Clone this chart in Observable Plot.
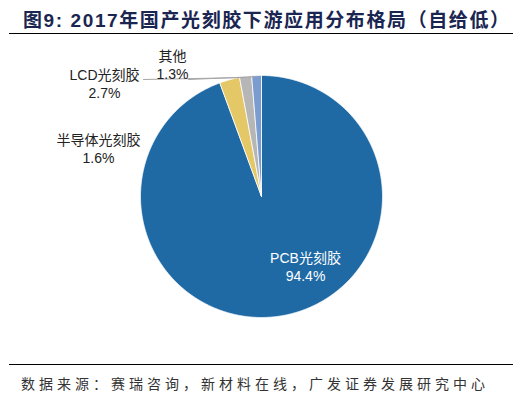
<!DOCTYPE html>
<html><head><meta charset="utf-8">
<script src="https://cdn.jsdelivr.net/npm/d3@7"></script>
<script src="https://cdn.jsdelivr.net/npm/@observablehq/plot@0.6"></script>
<style>
body{margin:0;background:#fff;width:522px;height:399px;overflow:hidden;font-family:"Liberation Sans","Noto Sans CJK SC",sans-serif;}
#title{position:absolute;left:23px;top:5px;font-size:19px;font-weight:bold;color:#1a2651;white-space:nowrap;font-family:"Liberation Sans","Noto Sans CJK SC",sans-serif;letter-spacing:1.6px;}
#rule1{position:absolute;left:9px;top:33px;width:504px;height:0;border-top:1.3px solid #000;}
#chart{position:absolute;left:0;top:35px;}
#rule2{position:absolute;left:9px;top:364px;width:504px;height:0;border-top:1.3px solid #000;}
#source{position:absolute;left:21px;top:373px;font-size:14px;color:#333;white-space:nowrap;letter-spacing:4px;font-family:"Noto Sans CJK SC",sans-serif;}
</style></head>
<body>
<div id="title">图9: 2017年国产光刻胶下游应用分布格局（自给低）</div>
<div id="rule1"></div>
<div id="chart"></div>
<div id="rule2"></div>
<div id="source">数据来源：赛瑞咨询，新材料在线，广发证券发展研究中心</div>
<script>
// Data
const categories = ["PCB光刻胶", "LCD光刻胶", "半导体光刻胶", "其他"];
const shares = [94.4, 2.7, 1.6, 1.3];
const colors = ["#1f6aa5", "#e4c766", "#b6b6b6", "#7b9ccf"];

// Layout (page coordinates)
const cx = 261, cy = 196, R = 121;
const labelPos = [[305, 265.5], [104, 83], [98, 148], [172, 63.5]];
const labelColor = ["#ffffff", "#222222", "#222222", "#222222"];
const leaderStart = [null, [143, 79], null, [188, 79]];
const leaderTarget = [null, 2, null, 3]; // slice index the leader points to

const arcs = d3.pie().sort(null).value(d => d)(shares);
const poly = [];
arcs.forEach((a, i) => {
  poly.push({k: categories[i], x: cx, y: cy});
  const n = Math.max(4, Math.ceil((a.endAngle - a.startAngle) / 0.005));
  for (let j = 0; j <= n; j++) {
    const t = a.startAngle + (a.endAngle - a.startAngle) * j / n;
    poly.push({k: categories[i], x: cx + R * Math.sin(t), y: cy - R * Math.cos(t)});
  }
  poly.push({k: categories[i], x: cx, y: cy});
});

const leaders = [];
categories.forEach((c, i) => {
  if (!leaderStart[i]) return;
  const a = arcs[leaderTarget[i]];
  const m = (a.startAngle + a.endAngle) / 2;
  leaders.push({k: c, x: leaderStart[i][0], y: leaderStart[i][1]});
  leaders.push({k: c, x: cx + R * Math.sin(m), y: cy - R * Math.cos(m) + 1});
});

const labels = categories.map((c, i) => ({
  text: c + "\n" + shares[i].toFixed(1) + "%",
  x: labelPos[i][0], y: labelPos[i][1], color: labelColor[i]
}));

const chart = Plot.plot({
  width: 522, height: 330,
  margin: 0,
  x: {domain: [0, 522], range: [0, 522], axis: null},
  y: {domain: [35, 365], range: [0, 330], axis: null},
  color: {domain: categories, range: colors},
  style: {fontFamily: '"Liberation Sans","Noto Sans CJK SC",sans-serif', background: "transparent"},
  marks: [
    Plot.line(poly, {x: "x", y: "y", z: "k", fill: "k", stroke: "#ffffff", strokeWidth: 0.8, curve: "linear"}),
    Plot.line(leaders, {x: "x", y: "y", z: "k", stroke: "#a6a6a6", strokeWidth: 1}),
    Plot.text(labels, {x: "x", y: "y", text: "text", fill: "color", fontSize: 14, lineHeight: 1.29, textAnchor: "middle"})
  ]
});
document.getElementById("chart").appendChild(chart);
</script>
</body></html>
